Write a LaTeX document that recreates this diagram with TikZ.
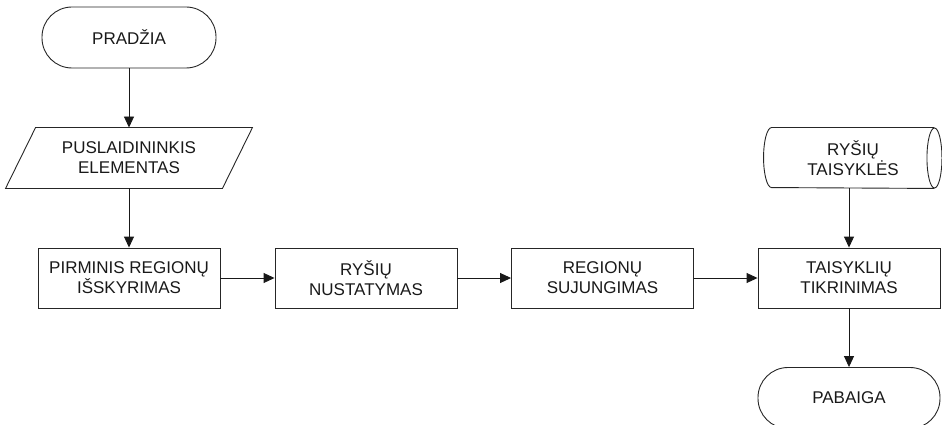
\documentclass[tikz,border=0pt]{standalone}
\usepackage{fontspec}
\setmainfont{Liberation Sans}
\usetikzlibrary{arrows.meta}
\begin{document}
\begin{tikzpicture}[x=1pt,y=-1pt,
  base/.style={font=\fontsize{17}{20}\selectfont, align=center, text=black!90,
    inner sep=0pt, line width=0.9pt, draw=black!85},
  terminal/.style={base, rectangle, rounded corners=30pt, minimum height=61pt},
  process/.style={base, rectangle, minimum width=182pt, minimum height=60pt},
  ghost/.style={base, draw=none, rectangle, minimum height=60pt},
  arr/.style={line width=0.9pt, draw=black!90, -{Triangle[length=11pt,width=10pt]}},
  outline/.style={line width=0.9pt, draw=black!85}]
\useasboundingbox (0,0) rectangle (942,425);

% start / end terminals
\node[terminal, minimum width=174pt] (start) at (129,37.5) {PRADŽIA};
\node[terminal, minimum width=182pt] (stop) at (849,398) {PABAIGA};

% input parallelogram
\node[ghost, minimum width=216pt] (input) at (129,158) {PUSLAIDININKIS\\ELEMENTAS};
\draw[outline] ([xshift=15pt]input.north west) -- ([xshift=15pt]input.north east)
  -- ([xshift=-15pt]input.south east) -- ([xshift=-15pt]input.south west) -- cycle;

% stored data (rules)
\node[ghost, minimum width=162pt] (rules) at (853,158) {RYŠIŲ\\TAISYKLĖS};
\draw[outline] (rules.north east) -- (rules.north west)
  arc[start angle=90, end angle=270, x radius=8pt, y radius=30pt]
  -- (rules.south east);
\draw[outline] (rules.east) ellipse [x radius=7.5pt, y radius=30pt];

% process boxes
\node[process] (extract) at (129,278) {PIRMINIS REGIONŲ\\IŠSKYRIMAS};
\node[process] (relate) at (366,278) {RYŠIŲ\\NUSTATYMAS};
\node[process] (merge) at (602.5,278) {REGIONŲ\\SUJUNGIMAS};
\node[process] (check) at (849,278) {TAISYKLIŲ\\TIKRINIMAS};

% connectors
\draw[arr] (start) -- (input);
\draw[arr] (input) -- (extract);
\draw[arr] (extract) -- (relate);
\draw[arr] (relate) -- (merge);
\draw[arr] (merge) -- (check);
\draw[arr] (rules.south -| check.north) -- (check.north);
\draw[arr] (check) -- (stop);
\end{tikzpicture}
\end{document}
